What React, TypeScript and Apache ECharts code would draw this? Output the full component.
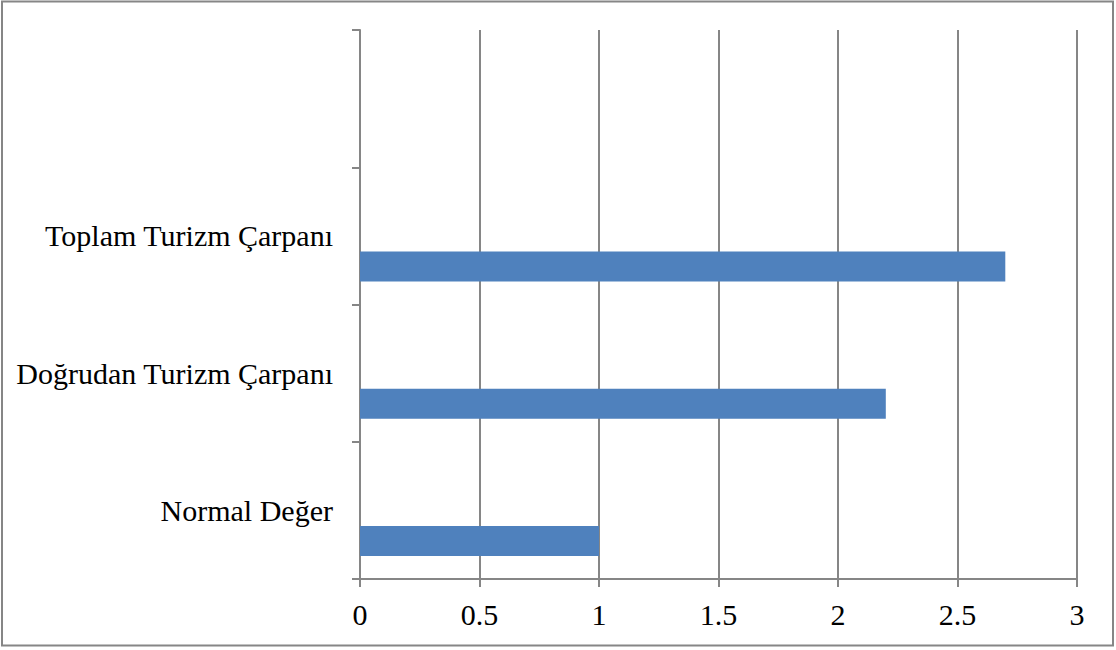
import React, { useEffect, useRef } from "react";
import * as echarts from "echarts";

const categories = ["Normal Değer", "Doğrudan Turizm Çarpanı", "Toplam Turizm Çarpanı", ""];
const values = [1, 2.2, 2.7, null];
const emptySeries = [null, null, null, null];

export default function App() {
  const ref = useRef<HTMLDivElement>(null);
  useEffect(() => {
    document.body.style.margin = "0";
    const chart = echarts.init(ref.current!, null, { renderer: "svg" });
    const grey = "#868686";
    const font = "'Liberation Serif', 'Times New Roman', serif";
    chart.setOption({
      animation: false,
      backgroundColor: "#ffffff",
      grid: { left: 360, right: 39, top: 30, bottom: 71, containLabel: false },
      xAxis: {
        type: "value",
        min: 0,
        max: 3,
        interval: 0.5,
        axisLine: { show: true, lineStyle: { color: grey, width: 2 } },
        axisTick: { show: true, length: 8, lineStyle: { color: grey, width: 2 } },
        splitLine: { show: true, lineStyle: { color: grey, width: 2 } },
        axisLabel: { color: "#000", fontFamily: font, fontSize: 30, margin: 20 },
      },
      yAxis: {
        type: "category",
        data: categories,
        axisLine: { show: true, lineStyle: { color: grey, width: 2 } },
        axisTick: { show: true, length: 8, interval: 0, lineStyle: { color: grey, width: 2 } },
        splitLine: { show: false },
        axisLabel: { color: "#000", fontFamily: font, fontSize: 30, margin: 27, interval: 0 },
      },
      series: [
        {
          type: "bar",
          data: emptySeries,
          barWidth: 30,
          barGap: "104%",
        },
        {
          type: "bar",
          data: values,
          barWidth: 30,
          barGap: "104%",
          itemStyle: { color: "#4F81BD" },
        },
      ],
      graphic: [
        {
          type: "rect",
          shape: { x: 2, y: 1.5, width: 1111, height: 644 },
          style: { fill: "none", stroke: grey, lineWidth: 2 },
          silent: true,
        },
      ],
    });
    return () => chart.dispose();
  }, []);
  return (
    <div
      ref={ref}
      style={{ position: "absolute", left: 0, top: 0, width: 1116, height: 650 }}
    />
  );
}
